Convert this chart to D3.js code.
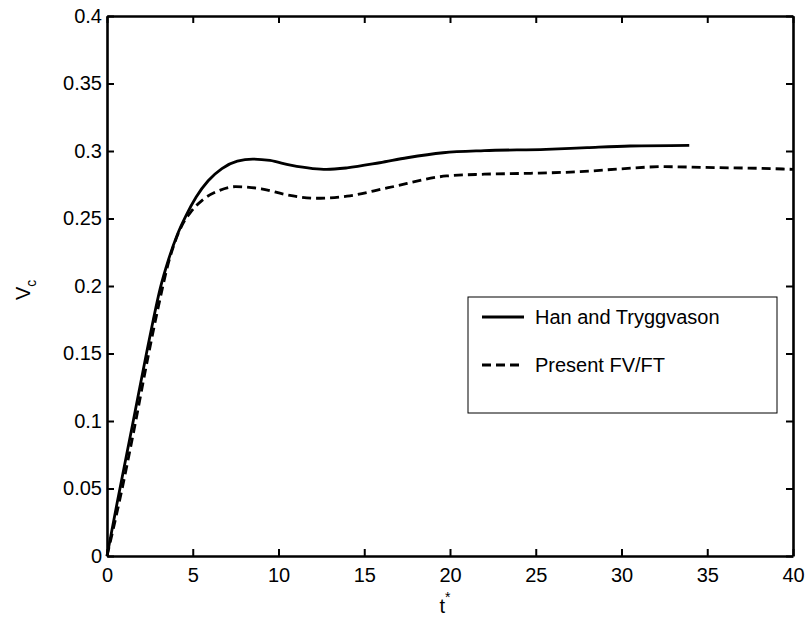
<!DOCTYPE html>
<html>
<head>
<meta charset="utf-8">
<script src="https://cdn.jsdelivr.net/npm/d3@7"></script>
<style>
  body { margin: 0; background: #fff; }
  svg text { font-family: "Liberation Sans", Arial, sans-serif; }
</style>
</head>
<body>
<div id="chart"></div>
<script>
// Datos
const hanT = [0, 0.6, 1.5, 2.3, 2.7, 3.1, 3.6, 4.1, 4.6, 5.2, 5.9, 6.7, 7.6, 8.5, 9.5, 10.7, 12, 12.8, 14, 15.9, 17.5, 19.6, 22, 25.6, 28, 30.5, 33.95];
const hanV = [0, 0.04, 0.098, 0.15, 0.175, 0.198, 0.22, 0.238, 0.252, 0.266, 0.278, 0.287, 0.2925, 0.294, 0.293, 0.2895, 0.287, 0.2864, 0.2875, 0.2913, 0.295, 0.2987, 0.3003, 0.3012, 0.3025, 0.3037, 0.3042];

const presT = [0, 0.8, 1.6, 2.4, 3.0, 3.6, 4.35, 4.9, 5.6, 6.5, 7.5, 9, 10.5, 12.2, 14, 16.4, 19.8, 22, 24.7, 27.6, 30, 32.4, 35.4, 38, 40];
const presV = [0, 0.045, 0.095, 0.148, 0.185, 0.218, 0.2444, 0.255, 0.264, 0.2705, 0.2736, 0.272, 0.2675, 0.265, 0.2665, 0.2728, 0.2815, 0.2828, 0.2835, 0.2847, 0.2868, 0.2884, 0.2877, 0.2872, 0.2864];

const xTicks = [0, 5, 10, 15, 20, 25, 30, 35, 40];
const yTicks = [0, 0.05, 0.1, 0.15, 0.2, 0.25, 0.3, 0.35, 0.4];
const legendLabels = ["Han and Tryggvason", "Present FV/FT"];

const width = 810, height = 621;
const margin = { top: 16, right: 17, bottom: 65, left: 107 };
const w = width - margin.left - margin.right;
const h = height - margin.top - margin.bottom;

const svg = d3.select("#chart").append("svg")
    .attr("width", width).attr("height", height);
const g = svg.append("g").attr("transform", `translate(${margin.left},${margin.top})`);

const x = d3.scaleLinear().domain([0, 40]).range([0, w]);
const y = d3.scaleLinear().domain([0, 0.4]).range([h, 0]);

// ejes (caja estilo matlab, ticks hacia dentro)
const fmt = d => d3.format("")(+d.toFixed(2));
g.append("g").attr("transform", `translate(0,${h})`)
    .call(d3.axisBottom(x).tickValues(xTicks).tickSizeInner(-7).tickSizeOuter(0).tickPadding(12).tickFormat(fmt));
g.append("g")
    .call(d3.axisLeft(y).tickValues(yTicks).tickSizeInner(-7).tickSizeOuter(0).tickPadding(5).tickFormat(fmt));
g.append("g")
    .call(d3.axisTop(x).tickValues(xTicks).tickSizeInner(-7).tickSizeOuter(0).tickFormat(""));
g.append("g").attr("transform", `translate(${w},0)`)
    .call(d3.axisRight(y).tickValues(yTicks).tickSizeInner(-7).tickSizeOuter(0).tickFormat(""));

g.selectAll(".domain").attr("stroke", "#000").attr("stroke-width", 2.6);
g.selectAll(".tick line").attr("stroke", "#000").attr("stroke-width", 2);
g.selectAll(".tick text").attr("font-size", 20).attr("fill", "#000");

// lineas
const line = d3.line().x(d => x(d[0])).y(d => y(d[1])).curve(d3.curveMonotoneX);
const hanData = hanT.map((t, i) => [t, hanV[i]]);
const presData = presT.map((t, i) => [t, presV[i]]);

g.append("path").datum(presData).attr("d", line)
    .attr("fill", "none").attr("stroke", "#000").attr("stroke-width", 2.8)
    .attr("stroke-dasharray", "9,5");
g.append("path").datum(hanData).attr("d", line)
    .attr("fill", "none").attr("stroke", "#000").attr("stroke-width", 2.8);

// etiquetas de ejes
const xl = svg.append("text").attr("x", 445).attr("y", 613).attr("font-size", 20).attr("text-anchor", "middle");
xl.append("tspan").text("t");
xl.append("tspan").attr("font-size", 14).attr("dy", -11).text("*");

const yl = svg.append("text").attr("transform", "translate(30,300) rotate(-90)").attr("font-size", 20);
yl.append("tspan").text("V");
yl.append("tspan").attr("font-size", 14).attr("dy", 6).text("c");

// leyenda
const lg = svg.append("g").attr("transform", "translate(468,297)");
lg.append("rect").attr("width", 309).attr("height", 116)
    .attr("fill", "#fff").attr("stroke", "#000").attr("stroke-width", 1);
legendLabels.forEach((lab, i) => {
    const yy = 20 + i * 48;
    lg.append("line").attr("x1", 14).attr("x2", 56).attr("y1", yy).attr("y2", yy)
        .attr("stroke", "#000").attr("stroke-width", 2.8)
        .attr("stroke-dasharray", i === 1 ? "9,5" : null);
    lg.append("text").attr("x", 67).attr("y", yy + 7).attr("font-size", 20).text(lab);
});
</script>
</body>
</html>
